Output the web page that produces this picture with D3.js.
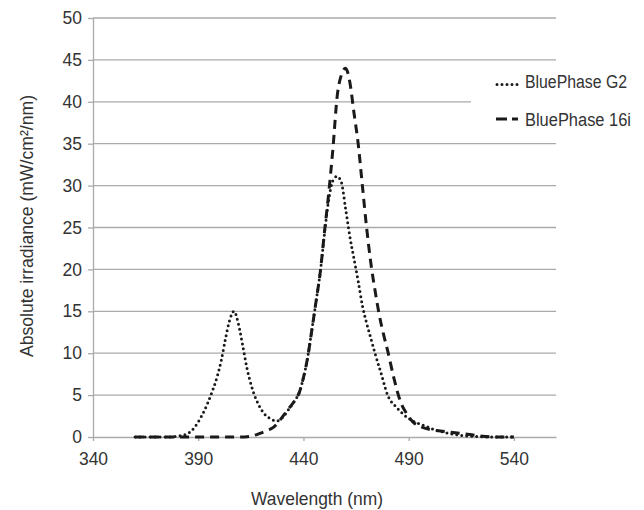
<!DOCTYPE html>
<html>
<head>
<meta charset="utf-8">
<title>Irradiance</title>
<script src="https://d3js.org/d3.v7.min.js"></script>
<style>
body { margin: 0; background: #fff; }
text { font-family: "Liberation Sans", Arial, sans-serif; fill: #333; }
</style>
</head>
<body>
<div id="chart"></div>
<script>
// tick values
var xTicks = [340, 390, 440, 490, 540];
var yTicks = [0, 5, 10, 15, 20, 25, 30, 35, 40, 45, 50];

// BluePhase G2 (dotted)
var g2Wave = [360, 365, 370, 375, 380, 384, 387, 390, 393, 396, 399, 401, 403, 405, 407, 409, 411, 413, 416, 419, 422, 425, 427, 430, 433, 436, 438, 440, 442, 444, 446, 448, 450, 452, 454, 456, 458, 460, 462, 464, 466, 468, 470, 472, 474, 477, 480, 484, 488, 492, 497, 502, 508, 515, 522, 530, 540];
var g2Value = [0, 0, 0, 0, 0.1, 0.3, 0.8, 1.8, 3.2, 5.0, 7.2, 9.2, 11.8, 14.0, 15.0, 13.6, 11.1, 8.4, 5.5, 3.7, 2.6, 2.1, 1.9, 2.3, 3.3, 4.4, 5.3, 7.1, 9.5, 12.8, 16.2, 19.7, 24.3, 28.3, 30.6, 31.1, 30.4, 27.3, 24.0, 21.3, 18.6, 15.7, 13.6, 11.8, 10.0, 7.5, 5.0, 3.6, 2.6, 1.9, 1.4, 0.9, 0.5, 0.2, 0.05, 0, 0];

// BluePhase 16i (dashed)
var b16Wave = [360, 370, 380, 390, 400, 410, 415, 419, 423, 426, 430, 433, 436, 438, 440, 442, 444, 446, 448, 450, 452, 454, 456, 458, 460, 462, 464, 466, 468, 470, 472, 474, 476, 478, 480, 483, 486, 489, 492, 496, 500, 506, 512, 519, 525, 532, 540];
var b16Value = [0, 0, 0, 0, 0, 0, 0.1, 0.4, 0.8, 1.2, 2.4, 3.4, 4.4, 5.3, 7.1, 9.5, 12.8, 16.2, 19.7, 24.5, 29.1, 34.4, 40.6, 43.2, 44.0, 42.4, 38.7, 35.0, 30.0, 25.0, 20.8, 17.5, 14.6, 12.3, 10.3, 7.0, 4.3, 2.8, 1.8, 1.2, 0.9, 0.7, 0.5, 0.3, 0.1, 0, 0];

var seriesNames = ["BluePhase G2", "BluePhase 16i"];

var W = 644, H = 510;
var margin = {top: 18, right: 88, bottom: 73, left: 93};
var width = W - margin.left - margin.right,
    height = H - margin.top - margin.bottom;

var svg = d3.select("#chart")
  .append("svg")
    .attr("width", W)
    .attr("height", H);

var g = svg.append("g")
  .attr("transform", "translate(" + margin.left + "," + margin.top + ")");

var x = d3.scaleLinear().domain([340, 560]).range([0, width]);
var y = d3.scaleLinear().domain([0, 50]).range([height, 0]);

// gridlines
g.append("g")
  .selectAll("line")
  .data(yTicks.slice(1))
  .enter()
  .append("line")
    .attr("x1", 0)
    .attr("x2", width)
    .attr("y1", function(d) { return y(d); })
    .attr("y2", function(d) { return y(d); })
    .attr("stroke", "#aaa")
    .attr("stroke-width", 1.3);

// legend background hides the gridline behind it
g.append("rect")
  .attr("x", 378)
  .attr("y", 50)
  .attr("width", 200)
  .attr("height", 70)
  .attr("fill", "#fff");

// axes
var yAxis = g.append("g")
  .call(d3.axisLeft(y).tickValues(yTicks).tickSize(5).tickSizeOuter(0).tickPadding(6));
var xAxis = g.append("g")
  .attr("transform", "translate(0," + height + ")")
  .call(d3.axisBottom(x).tickValues(xTicks).tickSize(4).tickSizeOuter(0).tickPadding(12));

[yAxis, xAxis].forEach(function(a) {
  a.select(".domain").attr("stroke", "#aaa").attr("stroke-width", 1.3);
  a.selectAll(".tick line").attr("stroke", "#aaa").attr("stroke-width", 1.3);
  a.selectAll(".tick text").style("font-size", "17.5px").attr("fill", "#333");
});

// lines
var line = d3.line()
  .x(function(d) { return x(d[0]); })
  .y(function(d) { return y(d[1]); })
  .curve(d3.curveMonotoneX);

var g2Data = g2Wave.map(function(w, i) { return [w, g2Value[i]]; });
var b16Data = b16Wave.map(function(w, i) { return [w, b16Value[i]]; });

g.append("path")
  .datum(b16Data)
  .attr("d", line)
  .attr("fill", "none")
  .attr("stroke", "#1a1a1a")
  .attr("stroke-width", 3)
  .attr("stroke-dasharray", "9 6");

g.append("path")
  .datum(g2Data)
  .attr("d", line)
  .attr("fill", "none")
  .attr("stroke", "#1a1a1a")
  .attr("stroke-width", 3)
  .attr("stroke-linecap", "round")
  .attr("stroke-dasharray", "0 5");

// legend
var legend = svg.append("g");
var legY = [84.5, 119];
var textW = [102, 106];
var dash = ["0 5", "11 5"];
seriesNames.forEach(function(name, i) {
  legend.append("line")
    .attr("x1", i == 0 ? 497 : 496).attr("x2", i == 0 ? 518 : 518)
    .attr("y1", legY[i]).attr("y2", legY[i])
    .attr("stroke", "#1a1a1a")
    .attr("stroke-width", 3)
    .attr("stroke-linecap", i == 0 ? "round" : "butt")
    .attr("stroke-dasharray", dash[i]);
  legend.append("text")
    .attr("x", 525)
    .attr("y", (i == 0 ? 81 : 119) + 6.5)
    .attr("textLength", textW[i])
    .attr("lengthAdjust", "spacingAndGlyphs")
    .style("font-size", "18px")
    .text(name);
});

// axis titles
svg.append("text")
  .attr("x", 317)
  .attr("y", 505)
  .attr("text-anchor", "middle")
  .attr("textLength", 132)
  .attr("lengthAdjust", "spacingAndGlyphs")
  .style("font-size", "18.5px")
  .text("Wavelength (nm)");

svg.append("text")
  .attr("transform", "translate(33,226) rotate(-90)")
  .attr("text-anchor", "middle")
  .attr("textLength", 262)
  .attr("lengthAdjust", "spacingAndGlyphs")
  .style("font-size", "18.5px")
  .text("Absolute irradiance (mW/cm²/nm)");
</script>
</body>
</html>
